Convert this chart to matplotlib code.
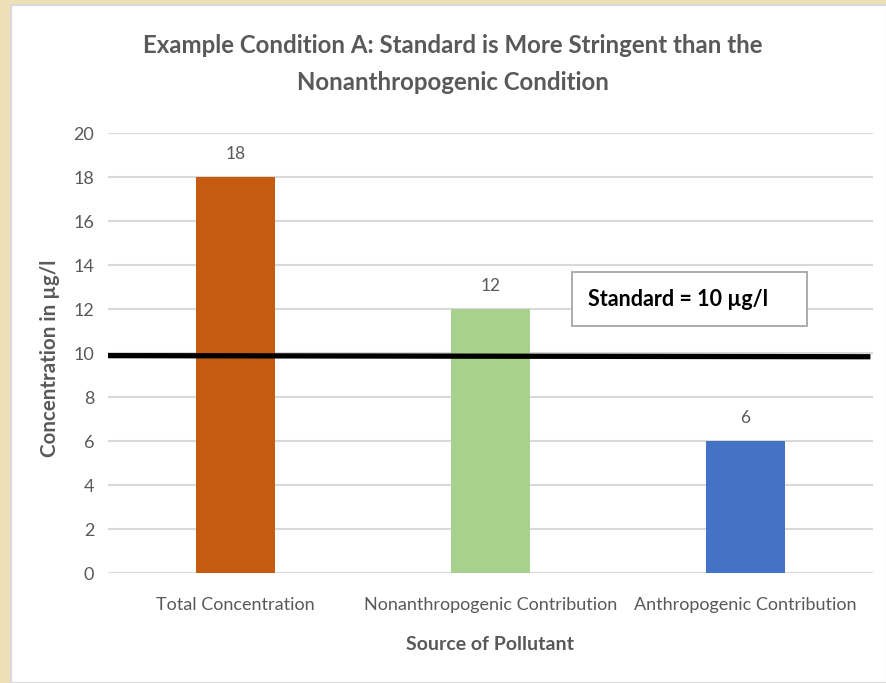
import matplotlib
matplotlib.use("Agg")
import matplotlib.pyplot as plt
from matplotlib.patches import Rectangle

categories = ["Total Concentration", "Nonanthropogenic Contribution", "Anthropogenic Contribution"]
values = [18, 12, 6]
bar_colors = ["#C55A11", "#A9D18E", "#4472C4"]
standard = 10
yticks = [0, 2, 4, 6, 8, 10, 12, 14, 16, 18, 20]

plt.rcParams["font.family"] = ["Lato", "DejaVu Sans"]

W, H = 887, 683
fig = plt.figure(figsize=(W / 100, H / 100), dpi=100, facecolor="#EFDFB6")

# white card behind the chart
fig.patches.append(Rectangle((11 / W, 0), 1 - 11 / W, 1 - 5 / H, transform=fig.transFigure,
                             facecolor="white", edgecolor="#D9D9D9", linewidth=1.5, zorder=-5))

ax = fig.add_axes([108 / W, 1 - 573 / H, (873 - 108) / W, (573 - 133) / H])
ax.set_zorder(2)
ax.set_facecolor("none")
x = list(range(len(categories)))
ax.bar(x, values, width=0.31, color=bar_colors, zorder=2)
ax.set_xlim(-0.5, 2.5)
ax.set_ylim(0, 20)
ax.set_yticks(yticks)
ax.yaxis.grid(True, color="#D9D9D9", linewidth=1.5, zorder=0)
ax.set_axisbelow(True)
for s in ax.spines.values():
    s.set_visible(False)
ax.tick_params(length=0, labelsize=13, labelcolor="#595959", pad=10)
ax.tick_params(axis="x", pad=17)
ax.set_xticks(x)
ax.set_xticklabels(categories)

for xi, v in zip(x, values):
    ax.annotate(str(v), (xi, v), xytext=(0, 11), textcoords="offset points",
                ha="center", va="bottom", fontsize=12.5, color="#595959")

# standard line
ax.plot([-0.5, 2.49], [standard - 0.12, standard - 0.17], color="black", linewidth=3.8,
        solid_capstyle="butt", zorder=3)

# callout box for the standard
box = Rectangle((572 / W, 1 - 326 / H), (807 - 572) / W, (326 - 272) / H, transform=fig.transFigure,
                facecolor="white", edgecolor="#A6A6A6", linewidth=1.3, zorder=4)
fig.add_artist(box)
fig.text(588 / W, 1 - 300 / H, "Standard = 10 µg/l", ha="left", va="center",
         fontsize=15.5, fontweight="bold", color="black", zorder=5)

ax.set_xlabel("Source of Pollutant", fontsize=14, fontweight="bold", color="#595959", labelpad=17)
fig.text(50 / W, 1 - 358 / H, "Concentration in µg/l", rotation=90, ha="center", va="center",
         fontsize=14.8, fontweight="bold", color="#595959")

fig.text(453 / W, 1 - 64 / H,
         "Example Condition A: Standard is More Stringent than the\nNonanthropogenic Condition",
         ha="center", va="center", fontsize=17.3, fontweight="bold", color="#595959", linespacing=1.75)

fig.savefig("out.png", dpi=100, facecolor=fig.get_facecolor())
